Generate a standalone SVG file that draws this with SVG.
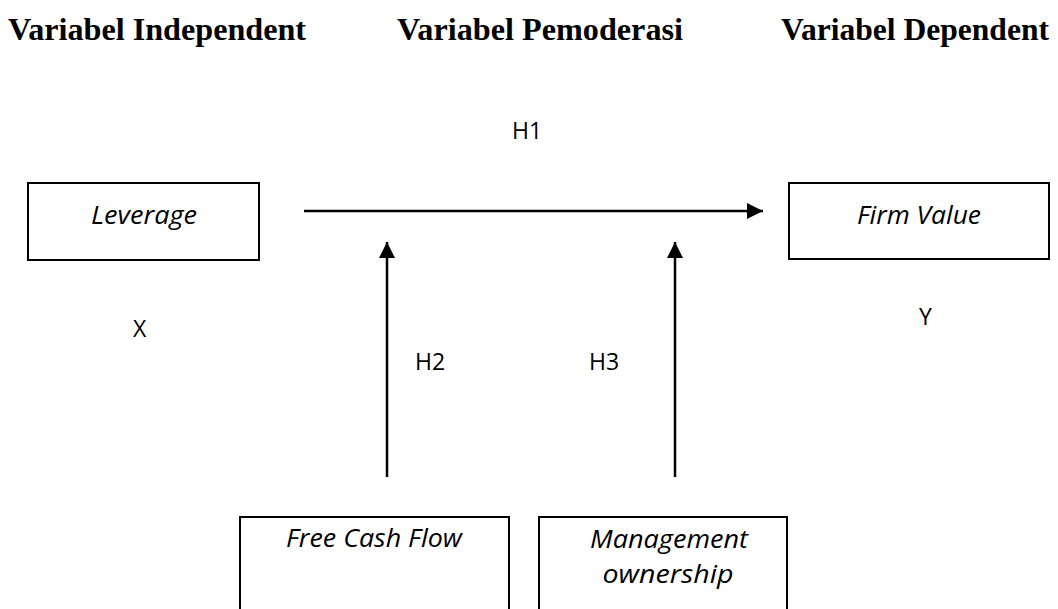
<svg xmlns="http://www.w3.org/2000/svg" width="1058" height="609" viewBox="0 0 1058 609">
<style>
.hdr{font-family:"Liberation Serif",serif;font-weight:bold;font-size:32px;fill:#000}
.box{fill:#fff;stroke:#000;stroke-width:2}
.lbl{font-family:"Open Sans","Noto Sans",sans-serif;font-style:italic;font-size:25px;fill:#000;text-anchor:middle}
.tag{font-family:"Open Sans","Noto Sans",sans-serif;font-size:23px;fill:#000}
.conn{stroke:#000;stroke-width:2.5;fill:none}
</style>
<defs>
<marker id="ah" viewBox="0 0 10 10" refX="10" refY="5" markerWidth="16" markerHeight="16" markerUnits="userSpaceOnUse" orient="auto">
<path d="M0,0 L10,5 L0,10 z" fill="#000"/>
</marker>
</defs>
<rect width="1058" height="609" fill="#fff"/>
<g id="headers">
<text class="hdr" x="8" y="40" textLength="298" lengthAdjust="spacingAndGlyphs">Variabel Independent</text>
<text class="hdr" x="397" y="40" textLength="286" lengthAdjust="spacingAndGlyphs">Variabel Pemoderasi</text>
<text class="hdr" x="781" y="40" style="font-size:31px" textLength="268" lengthAdjust="spacingAndGlyphs">Variabel Dependent</text>
</g>
<g id="connectors">
<line class="conn" x1="304" y1="211" x2="763" y2="211" marker-end="url(#ah)"/>
<line class="conn" x1="387" y1="477" x2="387" y2="242" marker-end="url(#ah)"/>
<line class="conn" x1="675" y1="477" x2="675" y2="242" marker-end="url(#ah)"/>
</g>
<g id="node-leverage">
<rect class="box" x="28" y="183" width="231" height="77"/>
<text class="lbl" x="144" y="224" textLength="106" lengthAdjust="spacingAndGlyphs">Leverage</text>
</g>
<g id="node-firmvalue">
<rect class="box" x="789" y="183" width="260" height="76"/>
<text class="lbl" x="919" y="224" textLength="124" lengthAdjust="spacingAndGlyphs">Firm Value</text>
</g>
<g id="node-fcf">
<rect class="box" x="240" y="517" width="269" height="110"/>
<text class="lbl" x="374" y="547" textLength="176" lengthAdjust="spacingAndGlyphs">Free Cash Flow</text>
</g>
<g id="node-mo">
<rect class="box" x="539" y="517" width="248" height="110"/>
<text class="lbl" x="669" y="548" textLength="158" lengthAdjust="spacingAndGlyphs">Management</text>
<text class="lbl" x="668" y="583" textLength="131" lengthAdjust="spacingAndGlyphs">ownership</text>
</g>
<g id="labels">
<text class="tag" x="512" y="139">H1</text>
<text class="tag" x="133" y="337">X</text>
<text class="tag" x="919" y="325">Y</text>
<text class="tag" x="415" y="370">H2</text>
<text class="tag" x="589" y="370">H3</text>
</g>
</svg>
